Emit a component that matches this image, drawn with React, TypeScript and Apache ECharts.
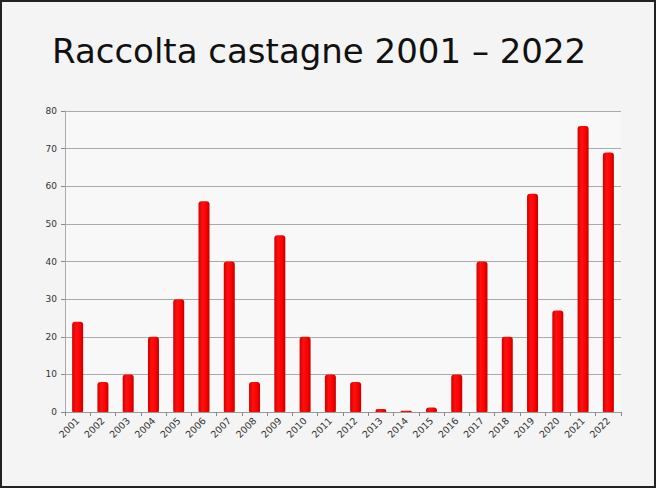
import React, { useEffect, useRef } from "react";
import * as echarts from "echarts";

const years = ["2001","2002","2003","2004","2005","2006","2007","2008","2009","2010","2011","2012","2013","2014","2015","2016","2017","2018","2019","2020","2021","2022"];
const harvest = [24, 8, 10, 20, 30, 56, 40, 8, 47, 20, 10, 8, 0.8, 0.3, 1.2, 10, 40, 20, 58, 27, 76, 69];
const titleText = "Raccolta castagne 2001 \u2013 2022";

export default function App() {
  const ref = useRef<HTMLDivElement>(null);
  useEffect(() => {
    if (!ref.current) return;
    const chart = echarts.init(ref.current, undefined, { renderer: "svg" });
    chart.setOption({
      animation: false,
      backgroundColor: "transparent",
      title: {
        text: titleText,
        left: 47,
        top: 29,
        textStyle: { fontFamily: "DejaVu Sans", fontSize: 34, fontWeight: "normal", color: "#111" },
      },
      grid: { left: 65, right: 35, top: 111, bottom: 76, show: true, backgroundColor: "#f8f8f8", borderWidth: 0 },
      xAxis: {
        type: "category",
        data: years,
        axisLine: { lineStyle: { color: "#999" } },
        axisTick: { show: true, length: 4, lineStyle: { color: "#888" } },
        axisLabel: { rotate: 45, fontSize: 9.5, color: "#333", fontFamily: "DejaVu Sans", margin: 7, interval: 0 },
      },
      yAxis: {
        type: "value",
        min: 0,
        max: 80,
        interval: 10,
        axisLine: { show: true, lineStyle: { color: "#aaa" } },
        axisTick: { show: true, length: 4, lineStyle: { color: "#888" } },
        axisLabel: { fontSize: 9, color: "#333", fontFamily: "DejaVu Sans", margin: 8 },
        splitLine: { lineStyle: { color: "#aaa", width: 1 } },
      },
      series: [
        {
          type: "bar",
          data: harvest,
          barWidth: 11,
          itemStyle: {
            borderRadius: [3, 3, 1, 1],
            color: new echarts.graphic.LinearGradient(0, 0, 1, 0, [
              { offset: 0, color: "#d00000" },
              { offset: 0.35, color: "#ff1010" },
              { offset: 0.7, color: "#ff0000" },
              { offset: 1, color: "#c00000" },
            ]),
          },
        },
      ],
    });
    return () => chart.dispose();
  }, []);
  return (
    <div
      style={{
        position: "absolute",
        left: 0,
        top: 0,
        width: 656,
        height: 488,
        boxSizing: "border-box",
        border: "2px solid #222",
        background: "#f4f4f4",
      }}
    >
      <div ref={ref} style={{ position: "absolute", left: -2, top: -2, width: 656, height: 488 }} />
    </div>
  );
}
